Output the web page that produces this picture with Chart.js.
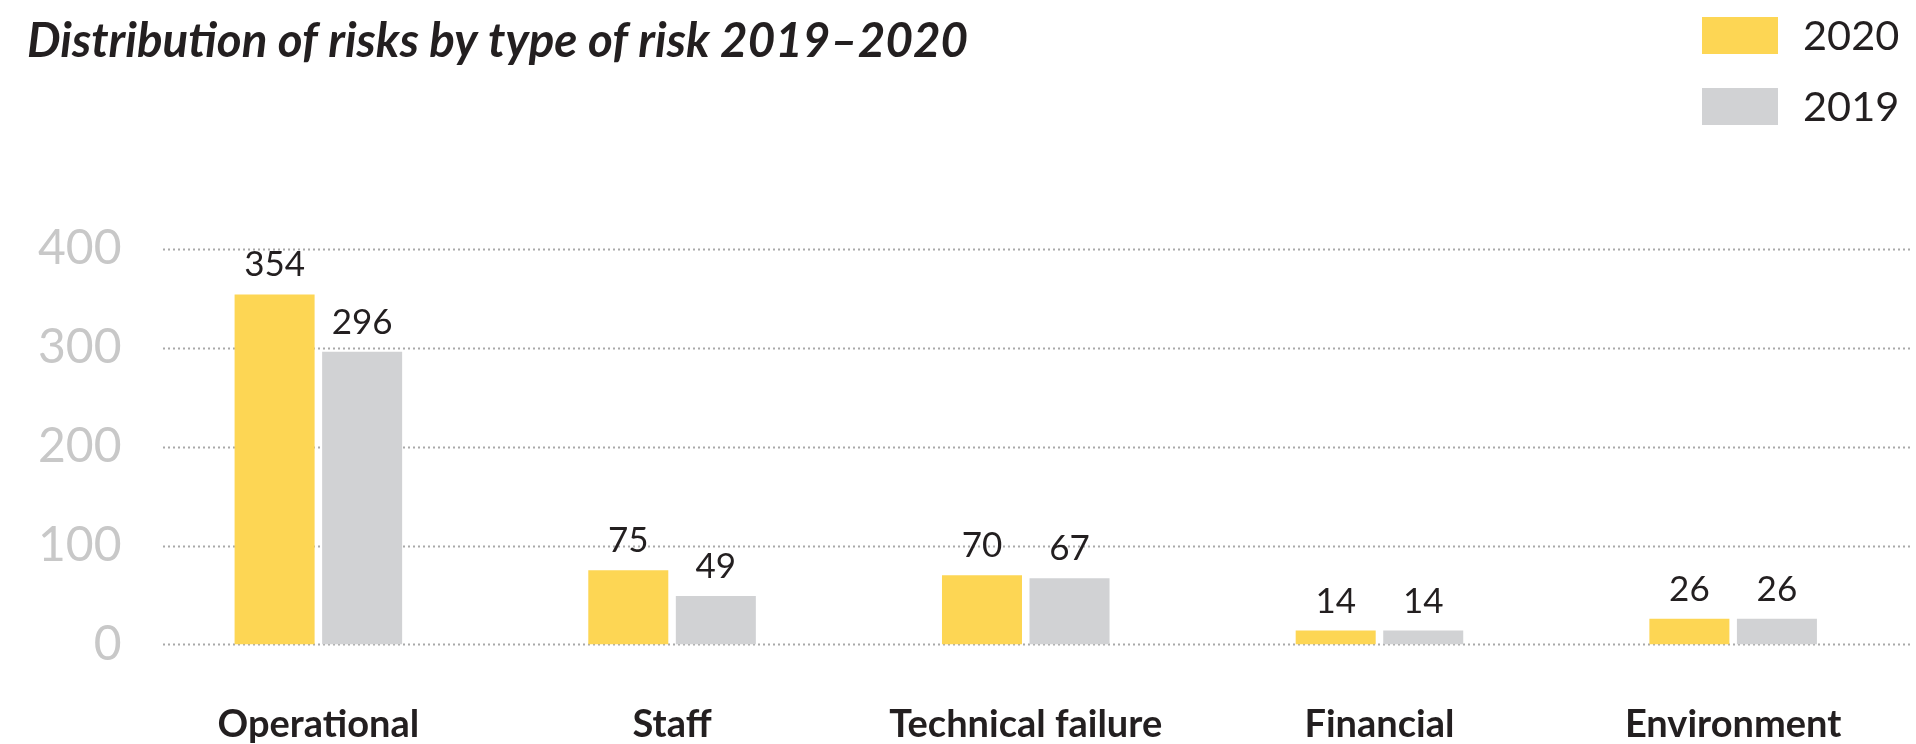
<!DOCTYPE html>
<html>
<head>
<meta charset="utf-8">
<title>Distribution of risks by type of risk 2019–2020</title>
<script src="https://cdn.jsdelivr.net/npm/chart.js@4/dist/chart.umd.min.js"></script>
<style>
  html, body { margin: 0; padding: 0; background: #fff; }
  #wrap { position: relative; width: 1916px; height: 744px; }
</style>
</head>
<body>
<div id="wrap"><canvas id="chart"></canvas></div>
<script>
'use strict';

// chart data
const chartTitle = 'Distribution of risks by type of risk 2019–2020';
const riskTypes = ['Operational', 'Staff', 'Technical failure', 'Financial', 'Environment'];
const risks2020 = [354, 75, 70, 14, 26];
const risks2019 = [296, 49, 67, 14, 26];
const yTicks = [0, 100, 200, 300, 400];

const YELLOW = '#fdd654';
const GREY = '#d1d2d4';
const INK = '#231f20';

// title + legend drawn on the canvas, top left and top right
const headerPlugin = {
  id: 'header',
  afterDraw(chart) {
    let ctx = chart.ctx;
    ctx.save();
    ctx.fillStyle = INK;
    ctx.textBaseline = 'alphabetic';
    ctx.textAlign = 'left';
    ctx.font = 'italic bold 47.5px Lato';
    ctx.fillText(chartTitle, 27, 57);

    ctx.font = '41.5px Lato';
    ctx.textBaseline = 'middle';
    // 2020 first, then 2019
    let order = [0, 1];
    order.forEach(function(i, row) {
      let ds = chart.data.datasets[i];
      let top = 17 + row * 71;
      ctx.fillStyle = ds.backgroundColor;
      ctx.fillRect(1702, top, 76, 37);
      ctx.fillStyle = INK;
      ctx.fillText(ds.label, 1803, top + 20);
    });
    ctx.restore();
  }
};

// dotted horizontal lines, starting a bit right of the plot edge
const gridPlugin = {
  id: 'dottedGrid',
  beforeDatasetsDraw(chart) {
    let ctx = chart.ctx;
    let y = chart.scales.y;
    ctx.save();
    ctx.strokeStyle = '#a9a9a9';
    ctx.lineWidth = 2;
    ctx.setLineDash([2, 3]);
    yTicks.forEach(function(v) {
      let py = Math.round(y.getPixelForValue(v)) + 0.5;
      ctx.beginPath();
      ctx.moveTo(163, py);
      ctx.lineTo(chart.chartArea.right, py);
      ctx.stroke();
    });
    ctx.restore();
  }
};

// value labels above each bar
const valuePlugin = {
  id: 'values',
  afterDatasetsDraw(chart) {
    let ctx = chart.ctx;
    ctx.save();
    ctx.font = '35px Lato';
    ctx.fillStyle = INK;
    ctx.textAlign = 'center';
    ctx.textBaseline = 'alphabetic';
    chart.data.datasets.forEach(function(ds, i) {
      chart.getDatasetMeta(i).data.forEach(function(bar, j) {
        ctx.fillText(ds.data[j], bar.x, bar.y - 18);
      });
    });
    ctx.restore();
  }
};

let chartConfig = {
  type: 'bar',
  data: {
    labels: riskTypes,
    datasets: [{
      label: '2020',
      data: risks2020,
      backgroundColor: YELLOW,
      categoryPercentage: 0.495,
      barPercentage: 0.914
    },
    {
      label: '2019',
      data: risks2019,
      backgroundColor: GREY,
      categoryPercentage: 0.495,
      barPercentage: 0.914
    }]
  },
  options: {
    responsive: true,
    maintainAspectRatio: false,
    animation: false,
    layout: {
      padding: { top: 249, right: 6, bottom: -54, left: 26 }
    },
    plugins: {
      legend: { display: false },
      title: { display: false },
      tooltip: { enabled: false }
    },
    scales: {
      x: {
        grid: { display: false },
        border: { display: false },
        ticks: {
          color: INK,
          padding: 50,
          font: { family: 'Lato', size: 38, weight: 'bold' }
        }
      },
      y: {
        min: 0,
        max: 400,
        afterBuildTicks(axis) {
          axis.ticks = yTicks.map(v => ({ value: v }));
        },
        grid: { display: false },
        border: { display: false },
        ticks: {
          color: '#c8c8c8',
          padding: 12,
          font: { family: 'Lato', size: 48 }
        }
      }
    }
  },
  plugins: [gridPlugin, valuePlugin, headerPlugin]
};

let myChart = new Chart(document.getElementById('chart'), chartConfig);
</script>
</body>
</html>
